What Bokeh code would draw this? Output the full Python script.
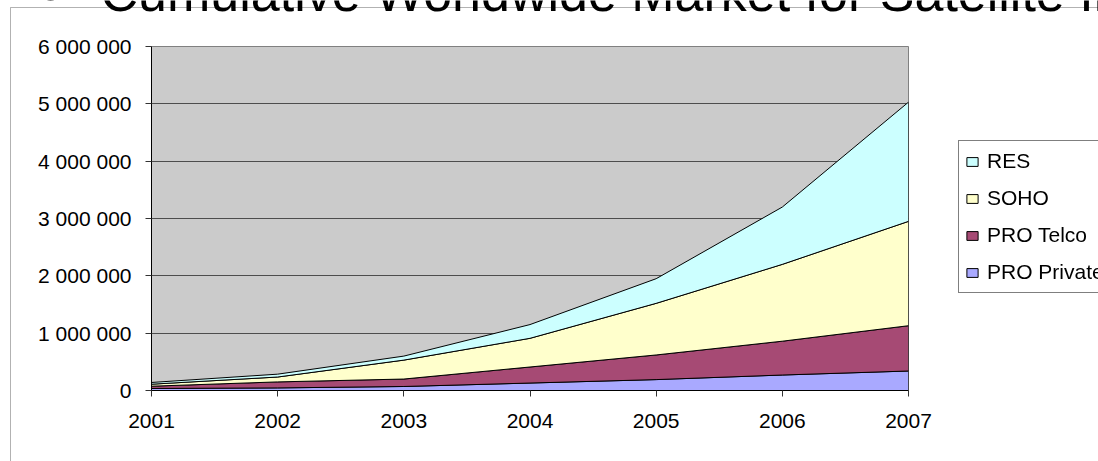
from bokeh.plotting import figure
from bokeh.models import (Range1d, FixedTicker, Label, BoxAnnotation, Legend,
                          LegendItem)
from bokeh.embed import file_html
from bokeh.resources import INLINE

# ---------------- data ----------------
years = [2001, 2002, 2003, 2004, 2005, 2006, 2007]
pro_private = [35000, 45000, 70000, 130000, 190000, 270000, 340000]
pro_telco = [40000, 105000, 130000, 280000, 430000, 590000, 790000]
soho = [35000, 85000, 330000, 500000, 900000, 1340000, 1820000]
res = [30000, 50000, 70000, 240000, 430000, 1000000, 2080000]

series_names = ["PRO Private", "PRO Telco", "SOHO", "RES"]
series_values = [pro_private, pro_telco, soho, res]
series_colors = ["#A9A9FF", "#A64A74", "#FFFFCC", "#CCFFFF"]

y_ticks = [0, 1000000, 2000000, 3000000, 4000000, 5000000, 6000000]
y_tick_labels = ["0", "1 000 000", "2 000 000", "3 000 000", "4 000 000",
                 "5 000 000", "6 000 000"]
x_tick_labels = ["2001", "2002", "2003", "2004", "2005", "2006", "2007"]
title_bullet = "•"
title_text = "Cumulative Worldwide Market for Satellite Internet"

# ---------------- layout ----------------
W, H = 1098, 461
FL, FR, FT, FB = 151, 908, 46, 390
FONT = "Liberation Sans"
NAN = float("nan")

p = figure(width=W, height=H, output_backend="svg", toolbar_location=None,
           x_range=Range1d(years[0], years[-1]),
           y_range=Range1d(y_ticks[0], y_ticks[-1]),
           min_border_left=FL, min_border_right=W - FR,
           min_border_top=FT, min_border_bottom=H - FB)

p.background_fill_color = "#CBCBCB"
p.border_fill_color = "white"
p.outline_line_color = "#808080"
p.outline_line_width = 1

p.xgrid.visible = False
p.ygrid.ticker = FixedTicker(ticks=y_ticks)
p.ygrid.grid_line_color = "#4D4D4D"
p.ygrid.grid_line_width = 1.2

p.yaxis.ticker = FixedTicker(ticks=y_ticks)
p.yaxis.major_label_overrides = {t: l for t, l in zip(y_ticks, y_tick_labels)}
p.xaxis.ticker = FixedTicker(ticks=years)
p.xaxis.major_label_overrides = {t: l for t, l in zip(years, x_tick_labels)}

for ax in (p.xaxis[0], p.yaxis[0]):
    ax.axis_line_color = "black"
    ax.axis_line_width = 1
    ax.major_tick_line_color = "#333333"
    ax.major_tick_out = 6
    ax.major_tick_in = 0
    ax.minor_tick_out = 0
    ax.minor_tick_in = 0
    ax.major_label_text_font = FONT
    ax.major_label_text_font_size = "21px"
    ax.major_label_text_color = "black"
p.yaxis.major_label_standoff = 14
p.xaxis.major_label_standoff = 17

# ---------------- stacked areas ----------------
bottom = [0] * len(years)
for name, vals, col in zip(series_names, series_values, series_colors):
    top = [b + v for b, v in zip(bottom, vals)]
    xs = years + years[::-1]
    ys = top + bottom[::-1]
    p.patch(xs, ys, fill_color=col, line_color="black", line_width=1)
    bottom = top

# ---------------- overlay: outer frame, title, legend ----------------
ov = figure(width=W, height=H, output_backend="svg", toolbar_location=None,
            x_range=Range1d(0, W), y_range=Range1d(H, 0),
            x_axis_location=None, y_axis_location=None,
            min_border=0)
ov.grid.visible = False
ov.background_fill_alpha = 0
ov.border_fill_alpha = 0
ov.outline_line_color = None
ov.styles = {"position": "fixed", "top": "0px", "left": "0px",
             "pointer-events": "none"}

ov.add_layout(BoxAnnotation(left=10, right=W + 100, top=7, bottom=H + 100,
                            fill_alpha=0, line_color="black", line_width=1))
ov.add_layout(Label(x=41, y=-8, text=title_bullet, text_font=FONT,
                    text_font_size="52px", text_baseline="alphabetic",
                    text_color="black"))
ov.add_layout(Label(x=100, y=-8, text=title_text, text_font=FONT,
                    text_font_size="52px", text_baseline="alphabetic",
                    text_color="black"))

# legend proxies (NaN data: nothing drawn, only their legend swatches show)
proxies = {}
for name, col in zip(series_names, series_colors):
    proxies[name] = ov.patch([NAN, NAN, NAN], [NAN, NAN, NAN],
                             fill_color=col, line_color="black",
                             line_width=1)

legend = Legend(items=[LegendItem(label=n, renderers=[proxies[n]])
                       for n in series_names[::-1]],
                location=(958, H - 293))
legend.border_line_color = "black"
legend.border_line_width = 1
legend.background_fill_color = "white"
legend.background_fill_alpha = 1
legend.label_text_font = FONT
legend.label_text_font_size = "21px"
legend.label_text_color = "black"
legend.glyph_width = 14
legend.glyph_height = 11
legend.label_standoff = 8
legend.padding = 6
legend.spacing = 9
legend.label_height = 28
legend.margin = 0
ov.add_layout(legend)

open("out.html", "w").write(file_html([p, ov], INLINE))
